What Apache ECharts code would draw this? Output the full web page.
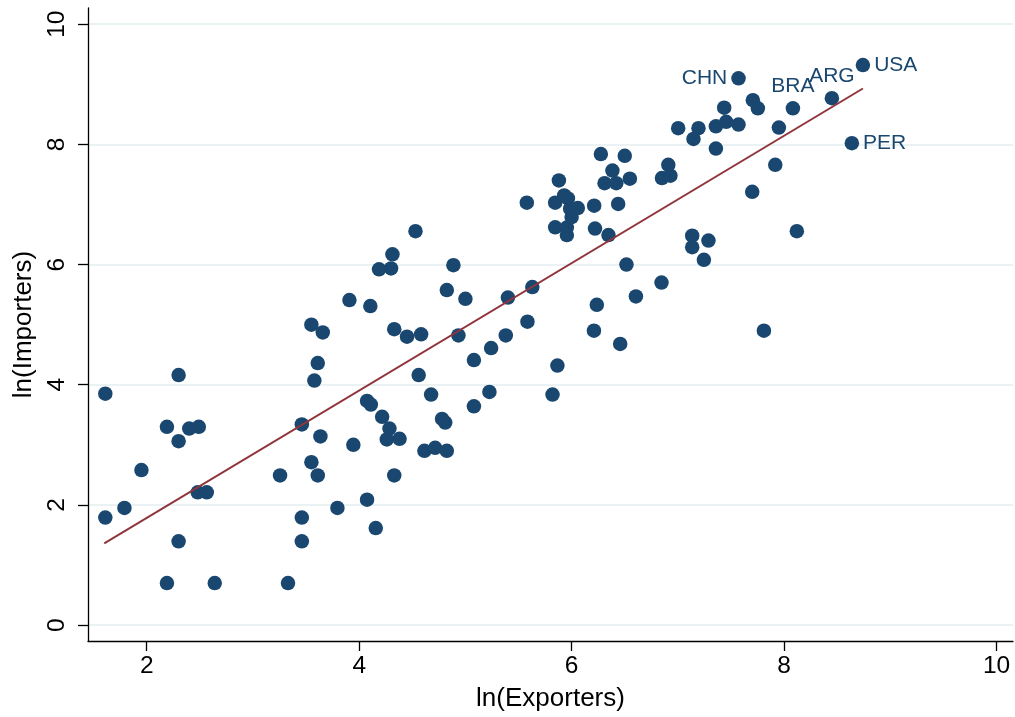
<!DOCTYPE html>
<html>
<head>
<meta charset="utf-8">
<script src="https://cdn.jsdelivr.net/npm/echarts@6/dist/echarts.min.js"></script>
<style>
  html, body { margin: 0; padding: 0; background: #fff; }
  #chart { width: 1015px; height: 717px; }
</style>
</head>
<body>
<div id="chart"></div>
<script>
// ln(Exporters) / ln(Importers) per country
const exporters = [
  1.61, 1.61, 1.79, 1.95, 2.19, 2.30, 2.30, 2.40, 2.49, 2.48, 2.565, 2.30, 2.19, 2.64,
  3.255, 3.33, 3.46, 3.46, 3.46, 3.55, 3.61, 3.635, 3.55, 3.657, 3.61, 3.578, 3.795,
  3.908, 3.945, 4.074, 4.156, 4.33, 4.074, 4.11, 4.105, 4.187, 4.30, 4.313, 4.53,
  4.216, 4.285, 4.26, 4.38, 4.33, 4.45, 4.583, 4.56, 4.614, 4.715, 4.825, 4.677,
  4.78, 4.81, 4.825, 4.887, 4.934, 5.0, 5.08, 5.08, 5.226, 5.242, 5.38, 5.40, 5.584,
  5.63, 5.578, 5.82, 5.866, 5.845, 5.845, 5.88, 5.93, 5.965, 5.955, 5.955, 5.986,
  6.0, 6.058, 6.212, 6.22, 6.21, 6.237, 6.275, 6.31, 6.384, 6.347, 6.42, 6.438,
  6.457, 6.50, 6.516, 6.548, 6.605, 6.846, 6.85, 6.93, 6.91, 7.003, 7.135, 7.135,
  7.288, 7.245, 7.147, 7.194, 7.358, 7.358, 7.436, 7.455, 7.571, 7.70, 7.706, 7.753,
  7.81, 7.917, 7.951, 8.12
];
const importers = [
  3.85, 1.79, 1.95, 2.58, 3.30, 4.16, 3.06, 3.27, 3.30, 2.21, 2.21, 1.395, 0.70, 0.70,
  2.49, 0.70, 1.79, 1.395, 3.34, 2.71, 2.49, 3.14, 5.0, 4.87, 4.36, 4.07, 1.95,
  5.41, 3.0, 2.086, 1.615, 2.49, 3.73, 3.67, 5.31, 5.92, 5.935, 6.17, 6.555,
  3.466, 3.27, 3.09, 3.10, 4.925, 4.80, 4.84, 4.16, 2.90, 2.95, 2.90, 3.836,
  3.43, 3.37, 5.575, 5.99, 4.82, 5.43, 4.41, 3.64, 3.88, 4.61, 4.82, 5.45, 5.05,
  5.625, 7.03, 3.836, 4.32, 7.03, 6.62, 7.40, 7.15, 7.10, 6.615, 6.49, 6.93,
  6.79, 6.94, 6.98, 6.60, 4.90, 5.33, 7.84, 7.355, 7.565, 6.49, 7.355, 7.01,
  4.68, 7.81, 6.0, 7.43, 5.47, 5.70, 7.44, 7.48, 7.66, 8.27, 6.48, 6.29,
  6.40, 6.08, 8.09, 8.27, 8.30, 7.93, 8.61, 8.376, 8.33, 7.21, 8.735, 8.60,
  4.90, 7.66, 8.28, 6.555
];

// labelled countries
const labelNames = ['CHN', 'BRA', 'ARG', 'PER', 'USA'];
const labelX = [7.571, 8.083, 8.45, 8.638, 8.742];
const labelY = [9.10, 8.60, 8.77, 8.02, 9.32];

// fitted line end points
const fitX = [1.60, 8.742];
const fitY = [1.36, 8.93];

const xTicks = [2, 4, 6, 8, 10];
const yTicks = [0, 2, 4, 6, 8, 10];

const navy = '#1a476f';
const maroon = '#90353b';
const labelPos = { CHN: 'left', BRA: 'top', ARG: 'top', PER: 'right', USA: 'right' };

const chart = echarts.init(document.getElementById('chart'));

const option = {
  animation: false,
  backgroundColor: '#fff',
  grid: { left: 88, right: 2, top: 8, bottom: 73, containLabel: false },
  xAxis: {
    type: 'value',
    min: 1.447,
    max: 10.155,
    name: 'ln(Exporters)',
    nameLocation: 'middle',
    nameGap: 45,
    nameTextStyle: { fontFamily: 'Liberation Sans', fontSize: 26, color: '#000' },
    axisLine: { show: true, onZero: false, lineStyle: { color: '#000', width: 1.3 } },
    axisTick: { show: true, length: 10, customValues: xTicks, lineStyle: { color: '#000', width: 1.3 } },
    axisLabel: { customValues: xTicks, margin: 13, fontFamily: 'Liberation Sans', fontSize: 24.5, color: '#000' },
    splitLine: { show: false }
  },
  yAxis: {
    type: 'value',
    min: -0.265,
    max: 10.27,
    name: 'ln(Importers)',
    nameLocation: 'middle',
    nameGap: 47,
    nameRotate: 90,
    nameTextStyle: { fontFamily: 'Liberation Sans', fontSize: 26, color: '#000' },
    axisLine: { show: true, onZero: false, lineStyle: { color: '#000', width: 1.3 } },
    axisTick: { show: true, length: 10, customValues: yTicks, lineStyle: { color: '#000', width: 1.3 } },
    axisLabel: { customValues: yTicks, rotate: 90, margin: 18, fontFamily: 'Liberation Sans', fontSize: 24.5, color: '#000' },
    splitLine: { show: true, lineStyle: { color: '#eaf2f3', width: 2 } }
  },
  series: [
    {
      type: 'scatter',
      symbolSize: 14.5,
      itemStyle: { color: navy, opacity: 1 },
      data: exporters.map((x, i) => [x, importers[i]]),
      z: 3
    },
    {
      type: 'scatter',
      symbolSize: 14.5,
      itemStyle: { color: navy, opacity: 1 },
      data: labelNames.map((n, i) => ({
        name: n,
        value: [labelX[i], labelY[i]],
        label: { position: labelPos[n] }
      })),
      label: {
        show: true,
        formatter: '{b}',
        distance: 4,
        fontFamily: 'Liberation Sans',
        fontSize: 21,
        color: navy
      },
      z: 3
    },
    {
      type: 'line',
      data: fitX.map((x, i) => [x, fitY[i]]),
      symbol: 'none',
      lineStyle: { color: maroon, width: 2 },
      z: 4
    }
  ]
};

chart.setOption(option);
</script>
</body>
</html>
